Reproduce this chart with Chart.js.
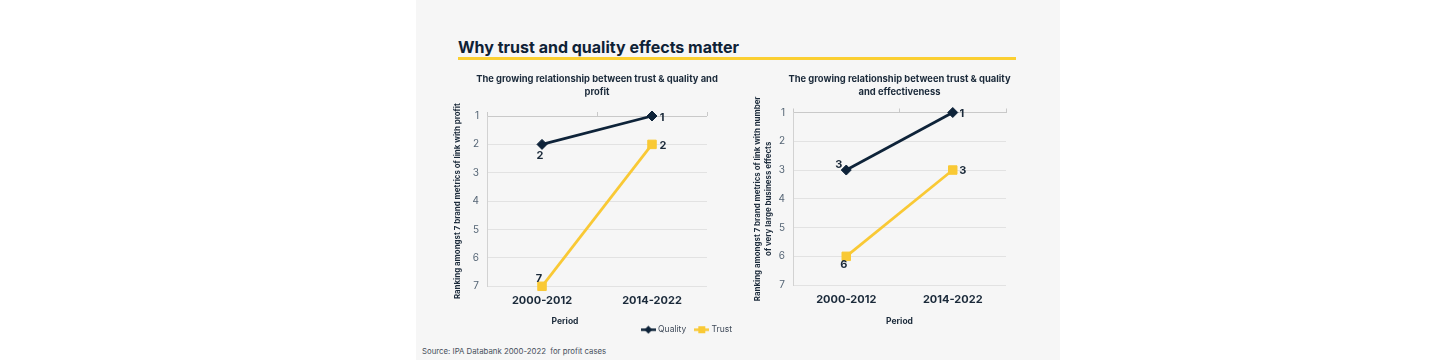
<!DOCTYPE html>
<html><head><meta charset="utf-8">
<script src="https://cdn.jsdelivr.net/npm/chart.js@4.4.1/dist/chart.umd.min.js"></script>
<style>
html,body{margin:0;padding:0;width:1440px;height:360px;background:#fff;overflow:hidden;font-family:Inter,"Noto Sans",sans-serif;}
#panel{position:absolute;left:416px;top:0;width:644px;height:360px;background:#f6f6f6;}
#heading{position:absolute;left:458px;top:37px;font-size:16px;font-weight:700;color:#0f2236;line-height:20px;white-space:nowrap;}
#rule{position:absolute;left:458px;top:57px;width:558px;height:3px;background:#fbcf31;}
#source{position:absolute;left:422px;top:345px;font-size:7.8px;color:#47505c;white-space:pre;line-height:12px;}
canvas{position:absolute;}
#c1{left:447px;top:66px;}
#c2{left:750px;top:66px;}
</style></head>
<body>
<div id="panel"></div>
<div id="heading">Why trust and quality effects matter</div>
<div id="rule"></div>
<canvas id="c1" width="300" height="278"></canvas>
<canvas id="c2" width="299" height="263"></canvas>
<div id="source">Source: IPA Databank 2000-2022  for profit cases</div>
<script>
// ---- data ----
const categories = ['2000-2012', '2014-2022'];
const seriesNames = ['Quality', 'Trust'];
const profitQuality = [2, 1];
const profitTrust = [7, 2];
const effectQuality = [3, 1];
const effectTrust = [6, 3];
const rankMin = 1;
const rankMax = 7;
const profitTitle = ['The growing relationship between trust & quality and', 'profit'];
const effectTitle = ['The growing relationship between trust & quality', 'and effectiveness'];
const profitYTitle = 'Ranking amongst 7 brand metrics of link with profit';
const effectYTitle = ['Ranking amongst 7 brand metrics of link with number', 'of very large business effects'];
const xTitle = 'Period';

// ---- style ----
const FAMILY = 'Inter, "Noto Sans", sans-serif';
const NAVY = '#0e2339';
const GOLD = '#f9c935';
const TEXT = '#1b2a3a';
// label offsets [dx, dy] per dataset per point
const profitLabelOffsets = [[[-2, 11], [10, 1.5]], [[-3, -8], [11, 1]]];
const effectLabelOffsets = [[[-7.5, -5], [9, 1]], [[-2.5, 8], [10, 1]]];

function legendIcon(color, shape) {
  const c = document.createElement('canvas');
  c.width = 15; c.height = 9;
  const g = c.getContext('2d');
  g.strokeStyle = color; g.lineWidth = 2.5;
  g.beginPath(); g.moveTo(0, 4.5); g.lineTo(15, 4.5); g.stroke();
  g.fillStyle = color;
  if (shape === 'diamond') {
    g.beginPath(); g.moveTo(7.5, 0.5); g.lineTo(11.5, 4.5); g.lineTo(7.5, 8.5); g.lineTo(3.5, 4.5); g.closePath(); g.fill();
  } else {
    g.fillRect(4, 1, 7, 7);
  }
  return c;
}
const legendIcons = [legendIcon(NAVY, 'diamond'), legendIcon(GOLD, 'square')];

const valueLabels = {
  id: 'valueLabels',
  afterDatasetsDraw(chart, args, opts) {
    const ctx = chart.ctx;
    chart.data.datasets.forEach((ds, di) => {
      const meta = chart.getDatasetMeta(di);
      meta.data.forEach((pt, i) => {
        const off = opts.offsets[di][i];
        ctx.save();
        ctx.font = 'bold 11px ' + FAMILY;
        ctx.fillStyle = TEXT;
        ctx.textAlign = 'center';
        ctx.textBaseline = 'middle';
        ctx.fillText(String(ds.data[i]), pt.x + off[0], pt.y + off[1]);
        ctx.restore();
      });
    });
  }
};

const sideAxisTitle = {
  id: 'sideAxisTitle',
  afterDraw(chart, args, opts) {
    if (!opts.text) return;
    const a = chart.chartArea, ctx = chart.ctx;
    ctx.save();
    ctx.font = 'bold 8.5px ' + FAMILY;
    ctx.fillStyle = TEXT;
    ctx.textAlign = 'center';
    ctx.textBaseline = 'middle';
    ctx.fillText(opts.text, (a.left + a.right) / 2 + opts.dx, a.bottom + opts.dy);
    ctx.restore();
  }
};

function lineDataset(label, data, color, style, radius) {
  return {
    label, data, borderColor: color, backgroundColor: color, borderWidth: 2.75,
    pointStyle: style, pointRadius: radius, pointHoverRadius: radius, pointBorderWidth: 1,
    pointBorderColor: color, pointBackgroundColor: color, tension: 0, clip: false
  };
}

function makeChart(id, cfg) {
  return new Chart(document.getElementById(id), {
    type: 'line',
    data: {
      labels: categories,
      datasets: [
        lineDataset(seriesNames[0], cfg.quality, NAVY, 'rectRot', 5),
        lineDataset(seriesNames[1], cfg.trust, GOLD, 'rect', 6)
      ]
    },
    plugins: [valueLabels, sideAxisTitle],
    options: {
      responsive: false,
      animation: false,
      events: [],
      layout: { padding: { left: cfg.sidePad, right: cfg.sidePad, top: 0, bottom: 0 } },
      scales: {
        x: {
          type: 'category', position: 'bottom', offset: true,
          grid: { display: false, drawTicks: false }, border: { display: false },
          ticks: { color: TEXT, font: { family: FAMILY, size: 11, weight: 'bold' }, padding: 8, maxRotation: 0 },
          title: cfg.axisXTitle
            ? { display: true, text: xTitle, color: TEXT, font: { family: FAMILY, size: 8.5, weight: 'bold' }, padding: { top: 2.5, bottom: 2 } }
            : { display: false }
        },
        xTop: {
          type: 'category', position: 'top', offset: true,
          grid: { display: true, offset: true, drawOnChartArea: false, drawTicks: true, tickLength: 4, color: '#c9c9c9' },
          border: { display: false }, ticks: { display: false }
        },
        y: {
          type: 'linear', reverse: true, min: rankMin, max: rankMax, position: 'left',
          afterFit(s) { s.width = cfg.yWidth; },
          ticks: { stepSize: 1, color: '#556575', font: { family: FAMILY, size: 10 }, padding: 8 },
          grid: { color: c => (c.tick && c.tick.value === rankMin) ? '#c9c9c9' : '#e2e2e2', drawTicks: false, lineWidth: 1 },
          border: { display: true, color: '#d2d2d2' },
          title: { display: true, text: cfg.yTitle, color: TEXT, font: { family: FAMILY, size: 7.9, weight: 'bold', lineHeight: '11px' }, padding: { top: cfg.yTitlePad, bottom: 0 } }
        },
        yRight: {
          type: 'linear', position: 'right',
          afterFit(s) { s.width = cfg.yWidth; },
          grid: { display: false }, border: { display: false }, ticks: { display: false }
        }
      },
      plugins: {
        tooltip: { enabled: false },
        title: {
          display: true, text: cfg.title, color: TEXT,
          font: { family: FAMILY, size: 9.4, weight: 'bold', lineHeight: '13px' },
          padding: { top: 6.5, bottom: cfg.titlePadBottom }
        },
        legend: cfg.legend ? {
          display: true, position: 'bottom', align: 'end',
          labels: {
            usePointStyle: true, pointStyleWidth: 11, padding: 10, color: '#404b5a',
            font: { family: FAMILY, size: 8.5 },
            generateLabels(chart) {
              const items = Chart.defaults.plugins.legend.labels.generateLabels(chart);
              items.forEach((it, i) => { it.pointStyle = legendIcons[i]; it.fontColor = '#404b5a'; });
              return items;
            }
          }
        } : { display: false },
        valueLabels: { offsets: cfg.offsets },
        sideAxisTitle: cfg.sideTitle || { text: null }
      }
    }
  });
}

makeChart('c1', {
  quality: profitQuality, trust: profitTrust, title: profitTitle, yTitle: profitYTitle,
  sidePad: 5, yWidth: 35, yTitlePad: 0, titlePadBottom: 13.5, legend: true, axisXTitle: false,
  offsets: profitLabelOffsets, sideTitle: { text: xTitle, dx: -32, dy: 35 }
});
makeChart('c2', {
  quality: effectQuality, trust: effectTrust, title: effectTitle, yTitle: effectYTitle,
  sidePad: 0, yWidth: 43, yTitlePad: 2.5, titlePadBottom: 10, legend: false, axisXTitle: true,
  offsets: effectLabelOffsets
});
</script>
</body></html>
